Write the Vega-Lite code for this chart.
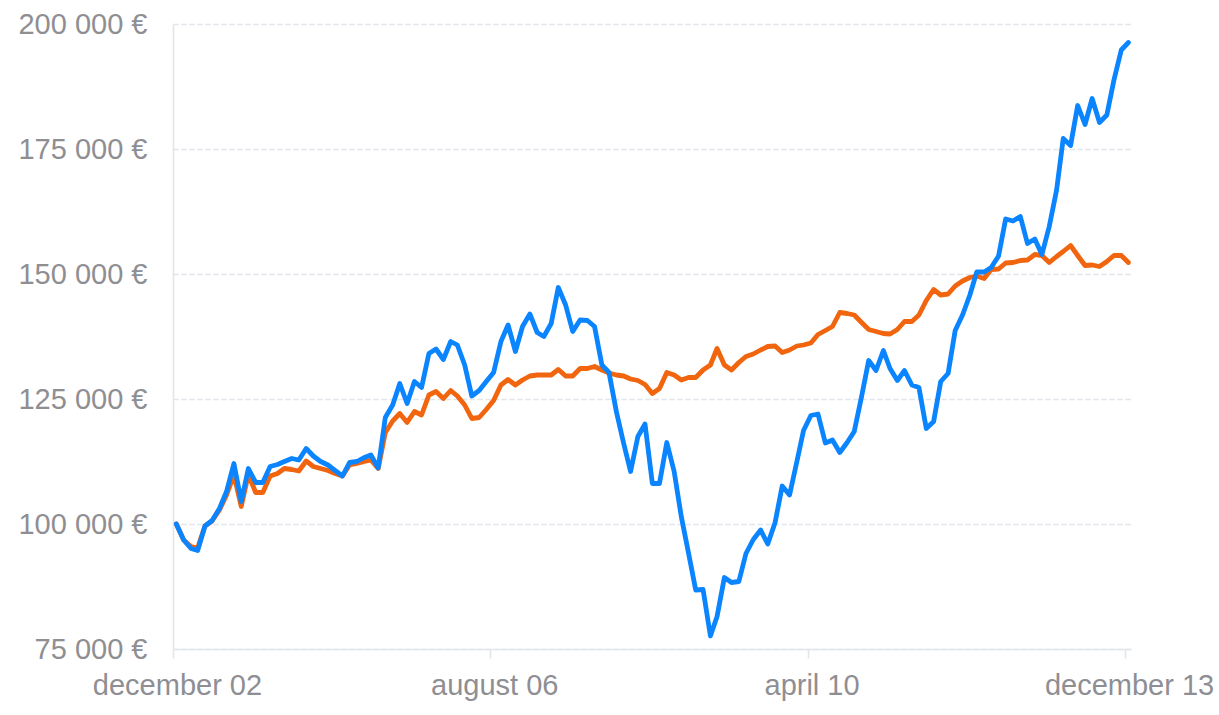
{
  "$schema": "https://vega.github.io/schema/vega-lite/v6.json",
  "width": 958,
  "height": 625,
  "autosize": {"type": "none"},
  "padding": {"left": 173, "top": 24, "right": 88, "bottom": 66},
  "background": "#ffffff",
  "config": {
    "view": {"stroke": null},
    "font": "Liberation Sans",
    "axis": {
      "labelFont": "Liberation Sans",
      "labelFontSize": 29,
      "labelColor": "#8e8e93",
      "domainColor": "#e2e5ea",
      "domainWidth": 1.6,
      "tickColor": "#e2e5ea",
      "tickWidth": 1.6,
      "gridColor": "#e2e5ea",
      "gridWidth": 1.6,
      "gridDash": [5.5, 2.5],
      "title": null
    }
  },
  "data": {
    "values": [
      {"d": "2002-12-15", "portfolio": 100000, "index": 100000},
      {"d": "2003-01-15", "portfolio": 96800, "index": 96800},
      {"d": "2003-02-15", "portfolio": 95100, "index": 95500},
      {"d": "2003-03-15", "portfolio": 94700, "index": 95200},
      {"d": "2003-04-15", "portfolio": 99600, "index": 99600},
      {"d": "2003-05-15", "portfolio": 100700, "index": 100600},
      {"d": "2003-06-15", "portfolio": 103100, "index": 102800},
      {"d": "2003-07-15", "portfolio": 106500, "index": 105800},
      {"d": "2003-08-15", "portfolio": 112100, "index": 109800},
      {"d": "2003-09-15", "portfolio": 104500, "index": 103500},
      {"d": "2003-10-15", "portfolio": 111100, "index": 109900},
      {"d": "2003-11-15", "portfolio": 108300, "index": 106300},
      {"d": "2003-12-15", "portfolio": 108300, "index": 106300},
      {"d": "2004-01-15", "portfolio": 111500, "index": 109600},
      {"d": "2004-02-15", "portfolio": 111900, "index": 110100},
      {"d": "2004-03-15", "portfolio": 112500, "index": 111100},
      {"d": "2004-04-15", "portfolio": 113100, "index": 110900},
      {"d": "2004-05-15", "portfolio": 112800, "index": 110600},
      {"d": "2004-06-15", "portfolio": 115100, "index": 112600},
      {"d": "2004-07-15", "portfolio": 113600, "index": 111500},
      {"d": "2004-08-15", "portfolio": 112500, "index": 111100},
      {"d": "2004-09-15", "portfolio": 111800, "index": 110700},
      {"d": "2004-10-15", "portfolio": 110700, "index": 110100},
      {"d": "2004-11-15", "portfolio": 109600, "index": 109600},
      {"d": "2004-12-15", "portfolio": 112300, "index": 111800},
      {"d": "2005-01-15", "portfolio": 112500, "index": 112100},
      {"d": "2005-02-15", "portfolio": 113300, "index": 112500},
      {"d": "2005-03-15", "portfolio": 113800, "index": 112800},
      {"d": "2005-04-15", "portfolio": 111200, "index": 111100},
      {"d": "2005-05-15", "portfolio": 121300, "index": 118300},
      {"d": "2005-06-15", "portfolio": 123800, "index": 120600},
      {"d": "2005-07-15", "portfolio": 128100, "index": 122100},
      {"d": "2005-08-15", "portfolio": 124100, "index": 120300},
      {"d": "2005-09-15", "portfolio": 128500, "index": 122500},
      {"d": "2005-10-15", "portfolio": 127300, "index": 121800},
      {"d": "2005-11-15", "portfolio": 134100, "index": 125800},
      {"d": "2005-12-15", "portfolio": 135000, "index": 126500},
      {"d": "2006-01-15", "portfolio": 132900, "index": 125100},
      {"d": "2006-02-15", "portfolio": 136500, "index": 126700},
      {"d": "2006-03-15", "portfolio": 135800, "index": 125600},
      {"d": "2006-04-15", "portfolio": 131800, "index": 123800},
      {"d": "2006-05-15", "portfolio": 125600, "index": 121100},
      {"d": "2006-06-15", "portfolio": 126700, "index": 121300},
      {"d": "2006-07-15", "portfolio": 128500, "index": 122900},
      {"d": "2006-08-15", "portfolio": 130300, "index": 124700},
      {"d": "2006-09-15", "portfolio": 136500, "index": 127800},
      {"d": "2006-10-15", "portfolio": 139800, "index": 128900},
      {"d": "2006-11-15", "portfolio": 134500, "index": 127800},
      {"d": "2006-12-15", "portfolio": 139500, "index": 128800},
      {"d": "2007-01-15", "portfolio": 142000, "index": 129600},
      {"d": "2007-02-15", "portfolio": 138300, "index": 129800},
      {"d": "2007-03-15", "portfolio": 137500, "index": 129800},
      {"d": "2007-04-15", "portfolio": 140100, "index": 129800},
      {"d": "2007-05-15", "portfolio": 147300, "index": 130900},
      {"d": "2007-06-15", "portfolio": 143800, "index": 129600},
      {"d": "2007-07-15", "portfolio": 138500, "index": 129600},
      {"d": "2007-08-15", "portfolio": 140800, "index": 131100},
      {"d": "2007-09-15", "portfolio": 140700, "index": 131100},
      {"d": "2007-10-15", "portfolio": 139500, "index": 131500},
      {"d": "2007-11-15", "portfolio": 131800, "index": 130800},
      {"d": "2007-12-15", "portfolio": 130300, "index": 130200},
      {"d": "2008-01-15", "portfolio": 122500, "index": 129800},
      {"d": "2008-02-15", "portfolio": 116100, "index": 129600},
      {"d": "2008-03-15", "portfolio": 110500, "index": 129000},
      {"d": "2008-04-15", "portfolio": 117500, "index": 128700},
      {"d": "2008-05-15", "portfolio": 120000, "index": 127900},
      {"d": "2008-06-15", "portfolio": 108100, "index": 126100},
      {"d": "2008-07-15", "portfolio": 108100, "index": 127100},
      {"d": "2008-08-15", "portfolio": 116300, "index": 130300},
      {"d": "2008-09-15", "portfolio": 110500, "index": 129800},
      {"d": "2008-10-15", "portfolio": 101500, "index": 128800},
      {"d": "2008-11-15", "portfolio": 94100, "index": 129300},
      {"d": "2008-12-15", "portfolio": 86800, "index": 129300},
      {"d": "2009-01-15", "portfolio": 86900, "index": 130800},
      {"d": "2009-02-15", "portfolio": 77600, "index": 131800},
      {"d": "2009-03-15", "portfolio": 81500, "index": 135100},
      {"d": "2009-04-15", "portfolio": 89300, "index": 131800},
      {"d": "2009-05-15", "portfolio": 88300, "index": 130800},
      {"d": "2009-06-15", "portfolio": 88500, "index": 132300},
      {"d": "2009-07-15", "portfolio": 94100, "index": 133500},
      {"d": "2009-08-15", "portfolio": 96900, "index": 134000},
      {"d": "2009-09-15", "portfolio": 98800, "index": 134800},
      {"d": "2009-10-15", "portfolio": 96000, "index": 135500},
      {"d": "2009-11-15", "portfolio": 100300, "index": 135600},
      {"d": "2009-12-15", "portfolio": 107600, "index": 134300},
      {"d": "2010-01-15", "portfolio": 105800, "index": 134800},
      {"d": "2010-02-15", "portfolio": 112500, "index": 135600},
      {"d": "2010-03-15", "portfolio": 118700, "index": 135800},
      {"d": "2010-04-15", "portfolio": 121700, "index": 136200},
      {"d": "2010-05-15", "portfolio": 122000, "index": 137900},
      {"d": "2010-06-15", "portfolio": 116200, "index": 138700},
      {"d": "2010-07-15", "portfolio": 116800, "index": 139500},
      {"d": "2010-08-15", "portfolio": 114300, "index": 142300},
      {"d": "2010-09-15", "portfolio": 116300, "index": 142100},
      {"d": "2010-10-15", "portfolio": 118500, "index": 141800},
      {"d": "2010-11-15", "portfolio": 125500, "index": 140300},
      {"d": "2010-12-15", "portfolio": 132700, "index": 138900},
      {"d": "2011-01-15", "portfolio": 130700, "index": 138500},
      {"d": "2011-02-15", "portfolio": 134700, "index": 138100},
      {"d": "2011-03-15", "portfolio": 131100, "index": 138000},
      {"d": "2011-04-15", "portfolio": 128700, "index": 138900},
      {"d": "2011-05-15", "portfolio": 130700, "index": 140500},
      {"d": "2011-06-15", "portfolio": 127800, "index": 140500},
      {"d": "2011-07-15", "portfolio": 127300, "index": 141800},
      {"d": "2011-08-15", "portfolio": 119100, "index": 144700},
      {"d": "2011-09-15", "portfolio": 120500, "index": 146900},
      {"d": "2011-10-15", "portfolio": 128500, "index": 145800},
      {"d": "2011-11-15", "portfolio": 130100, "index": 146000},
      {"d": "2011-12-15", "portfolio": 138700, "index": 147600},
      {"d": "2012-01-15", "portfolio": 141800, "index": 148600},
      {"d": "2012-02-15", "portfolio": 145800, "index": 149300},
      {"d": "2012-03-15", "portfolio": 150400, "index": 149600},
      {"d": "2012-04-15", "portfolio": 150400, "index": 149100},
      {"d": "2012-05-15", "portfolio": 151300, "index": 150900},
      {"d": "2012-06-15", "portfolio": 153600, "index": 151000},
      {"d": "2012-07-15", "portfolio": 161000, "index": 152200},
      {"d": "2012-08-15", "portfolio": 160600, "index": 152300},
      {"d": "2012-09-15", "portfolio": 161500, "index": 152700},
      {"d": "2012-10-15", "portfolio": 156100, "index": 152800},
      {"d": "2012-11-15", "portfolio": 157000, "index": 153900},
      {"d": "2012-12-15", "portfolio": 153900, "index": 153700},
      {"d": "2013-01-15", "portfolio": 159500, "index": 152300},
      {"d": "2013-02-15", "portfolio": 166800, "index": 153500},
      {"d": "2013-03-15", "portfolio": 177100, "index": 154500},
      {"d": "2013-04-15", "portfolio": 175700, "index": 155700},
      {"d": "2013-05-15", "portfolio": 183700, "index": 153700},
      {"d": "2013-06-15", "portfolio": 179900, "index": 151700},
      {"d": "2013-07-15", "portfolio": 185100, "index": 151800},
      {"d": "2013-08-15", "portfolio": 180300, "index": 151500},
      {"d": "2013-09-15", "portfolio": 181800, "index": 152500},
      {"d": "2013-10-15", "portfolio": 188800, "index": 153700},
      {"d": "2013-11-15", "portfolio": 194800, "index": 153700},
      {"d": "2013-12-15", "portfolio": 196300, "index": 152300}
    ]
  },
  "transform": [
    {"fold": ["index", "portfolio"], "as": ["series", "value"]}
  ],
  "mark": {
    "type": "line",
    "strokeWidth": 4.8,
    "strokeCap": "round",
    "strokeJoin": "round"
  },
  "encoding": {
    "x": {
      "field": "d",
      "type": "temporal",
      "scale": {
        "type": "utc",
        "domain": [
          {"year": 2002, "month": 12, "date": 1, "utc": true},
          {"year": 2013, "month": 12, "date": 26, "utc": true}
        ],
        "nice": false
      },
      "axis": {
        "values": [
          {"year": 2002, "month": 12, "date": 1, "utc": true},
          {"year": 2006, "month": 8, "date": 1, "utc": true},
          {"year": 2010, "month": 4, "date": 1, "utc": true},
          {"year": 2013, "month": 12, "date": 1, "utc": true}
        ],
        "labelExpr": "lower(utcFormat(datum.value, '%B %y'))",
        "grid": false,
        "tickSize": 9,
        "labelPadding": 13,
        "labelOffset": 4,
        "labelFlush": false,
        "labelOverlap": false
      }
    },
    "y": {
      "field": "value",
      "type": "quantitative",
      "scale": {"domain": [75000, 200000], "nice": false, "zero": false},
      "axis": {
        "values": [75000, 100000, 125000, 150000, 175000, 200000],
        "labelExpr": "replace(format(datum.value, ','), ',', ' ') + ' €'",
        "ticks": false,
        "labelPadding": 26,
        "grid": true
      }
    },
    "color": {
      "field": "series",
      "type": "nominal",
      "scale": {"domain": ["index", "portfolio"], "range": ["#f0650e", "#0a84ff"]},
      "legend": null
    }
  }
}
